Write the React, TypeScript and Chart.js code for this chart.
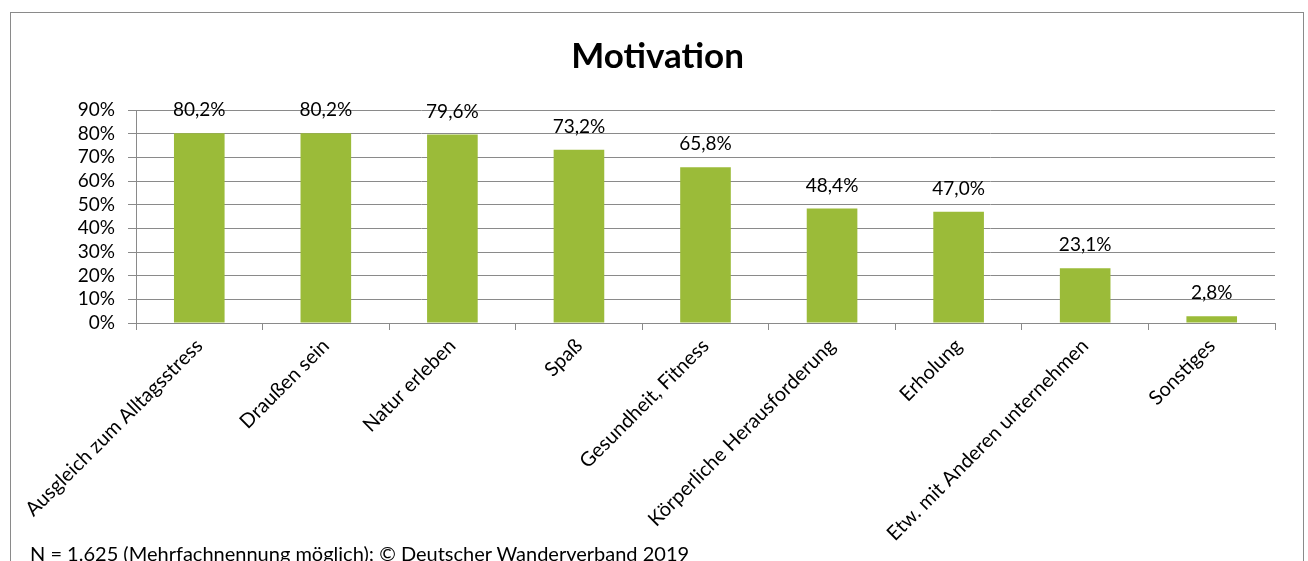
import React, { useEffect, useRef } from 'react';
import { Chart, registerables } from 'chart.js';

Chart.register(...registerables);

const categories = [
  'Ausgleich zum Alltagsstress',
  'Draußen sein',
  'Natur erleben',
  'Spaß',
  'Gesundheit, Fitness',
  'Körperliche Herausforderung',
  'Erholung',
  'Etw. mit Anderen unternehmen',
  'Sonstiges',
];
const values = [80.2, 80.2, 79.6, 73.2, 65.8, 48.4, 47.0, 23.1, 2.8];
const valueLabels = ['80,2%', '80,2%', '79,6%', '73,2%', '65,8%', '48,4%', '47,0%', '23,1%', '2,8%'];
const yMin = 0;
const yMax = 90;
const yStep = 10;
const titleText = 'Motivation';
const footerText = 'N = 1.625 (Mehrfachnennung möglich); © Deutscher Wanderverband 2019';

const FONT = 'Lato, "Open Sans", sans-serif';
const GRAY = '#8a8a8a';
const GREEN = '#9bbb39';

const valueLabelPlugin = {
  id: 'valueLabels',
  afterDatasetsDraw(chart: any) {
    const ctx = chart.ctx;
    const meta = chart.getDatasetMeta(0);
    ctx.save();
    ctx.font = `19px ${FONT}`;
    ctx.fillStyle = '#000';
    ctx.textAlign = 'center';
    ctx.textBaseline = 'middle';
    meta.data.forEach((bar: any, i: number) => {
      ctx.fillText(valueLabels[i], bar.x, bar.y - 23);
    });
    ctx.restore();
  },
};

export default function App() {
  const canvasRef = useRef<HTMLCanvasElement | null>(null);

  useEffect(() => {
    if (!canvasRef.current) return;
    const chart = new Chart(canvasRef.current, {
      type: 'bar',
      data: {
        labels: categories,
        datasets: [
          {
            data: values,
            backgroundColor: GREEN,
            borderWidth: 0,
            barPercentage: 0.4,
            categoryPercentage: 1,
          },
        ],
      },
      options: {
        animation: false,
        responsive: false,
        maintainAspectRatio: false,
        devicePixelRatio: 1,
        layout: { padding: { left: 40, right: 33, top: 0, bottom: 0 } },
        plugins: {
          legend: { display: false },
          tooltip: { enabled: false },
          title: {
            display: true,
            text: titleText,
            color: '#000',
            font: { family: FONT, size: 35, weight: 'bold' },
            padding: { top: 36, bottom: 32 },
          },
        },
        scales: {
          x: {
            offset: true,
            grid: {
              display: true,
              drawOnChartArea: false,
              drawTicks: true,
              tickLength: 7,
              color: GRAY,
              offset: true,
            },
            border: { display: true, color: GRAY, width: 1 },
            ticks: {
              autoSkip: false,
              maxRotation: 45,
              minRotation: 45,
              color: '#000',
              font: { family: FONT, size: 20 },
              padding: 4,
            },
            afterFit: (scale: any) => {
              scale.height = 238;
            },
          },
          y: {
            min: yMin,
            max: yMax,
            grid: {
              color: GRAY,
              lineWidth: 1,
              tickLength: 8,
              drawTicks: true,
            },
            border: { display: true, color: GRAY, width: 1 },
            ticks: {
              stepSize: yStep,
              autoSkip: false,
              color: '#000',
              padding: 13,
              font: { family: FONT, size: 19 },
              callback: (v: any) => `${v}%`,
            },
            afterFit: (scale: any) => {
              scale.width = 96;
            },
          },
        },
      },
      plugins: [valueLabelPlugin],
    });
    return () => chart.destroy();
  }, []);

  return (
    <div
      style={{
        position: 'fixed',
        left: 0,
        top: 0,
        width: 1308,
        height: 561,
        background: '#fff',
        overflow: 'hidden',
      }}
    >
      <div
        style={{
          position: 'absolute',
          left: 10,
          top: 12,
          width: 1292,
          height: 600,
          border: `1px solid ${GRAY}`,
        }}
      />
      <canvas
        ref={canvasRef}
        width={1308}
        height={561}
        style={{ position: 'absolute', left: 0, top: 0, width: 1308, height: 561 }}
      />
      <div
        style={{
          position: 'absolute',
          left: 30,
          top: 541,
          fontFamily: FONT,
          fontSize: 20,
          color: '#000',
          whiteSpace: 'nowrap',
          lineHeight: '24px',
        }}
      >
        {footerText}
      </div>
    </div>
  );
}
